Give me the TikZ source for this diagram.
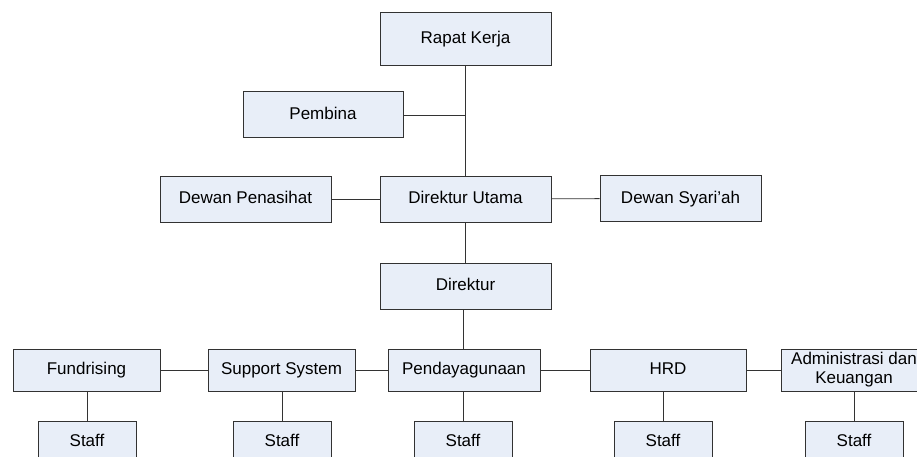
\documentclass[tikz,border=0pt]{standalone}
\usepackage{fontspec}
\setmainfont{Liberation Sans}
\definecolor{boxfill}{RGB}{232,238,248}
\definecolor{boxline}{RGB}{50,50,50}
\begin{document}
\begin{tikzpicture}[x=1pt,y=-1pt,
    kotak/.style={draw=boxline, line width=1pt, fill=boxfill, inner sep=1pt,
      minimum height=46pt, font=\fontsize{17}{19}\selectfont, align=center},
    jabatan/.style={kotak, text height=12.5pt, text depth=3.5pt},
    bidang/.style={jabatan, minimum height=42pt},
    staf/.style={jabatan, minimum width=98pt, minimum height=42pt},
    garis/.style={draw=black!80, line width=0.9pt}]

  \clip (0,0) rectangle (917,457);

   %pimpinan
   \node[jabatan, minimum width=171pt, minimum height=53pt] (rapat) at (465.5,39.5) {Rapat Kerja};
   \node[jabatan, minimum width=160pt] (pembina) at (323,115) {Pembina};
   \node[jabatan, minimum width=171pt] (penasihat) at (245.5,199) {Dewan Penasihat};
   \node[jabatan, minimum width=171pt] (utama) at (465.5,199) {Direktur Utama};
   \node[jabatan, minimum width=161pt] (syariah) at (680.5,198.5) {Dewan Syari’ah};
   \node[jabatan, minimum width=171pt] (direktur) at (465.5,286) {Direktur};

   %bidang
   \node[bidang, minimum width=147pt] (fund) at (86.5,370) {Fundrising};
   \node[bidang, minimum width=147pt] (support) at (281.5,370) {Support System};
   \node[bidang, minimum width=152pt] (pendaya) at (464,370) {Pendayagunaan};
   \node[bidang, minimum width=156pt] (hrd) at (668,370) {HRD};
   \node[kotak, minimum width=146pt, minimum height=42pt] (admin) at (854,370) {Administrasi dan\\Keuangan};

   %staff
   \node[staf] (sfund) at (87,442) {Staff};
   \node[staf] (ssupport) at (282,442) {Staff};
   \node[staf] (spendaya) at (463,442) {Staff};
   \node[staf] (shrd) at (663,442) {Staff};
   \node[staf] (sadmin) at (854,442) {Staff};

   %garis
   \draw[garis] (rapat.south) -- (utama.north);
   \draw[garis] (pembina.east) -- (pembina.east -| rapat.south);
   \draw[garis] (penasihat) -- (utama);
   \draw[garis] (utama) -- (syariah);
   \draw[garis] (utama.south) -- (direktur.north);
   \draw[garis] (direktur.south -| spendaya.north) -- (pendaya.north -| spendaya.north);
   \draw[garis] (fund) -- (support);
   \draw[garis] (support) -- (pendaya);
   \draw[garis] (pendaya) -- (hrd);
   \draw[garis] (hrd) -- (admin);
   \draw[garis] (fund.south -| sfund.north) -- (sfund.north);
   \draw[garis] (support.south -| ssupport.north) -- (ssupport.north);
   \draw[garis] (pendaya.south -| spendaya.north) -- (spendaya.north);
   \draw[garis] (hrd.south -| shrd.north) -- (shrd.north);
   \draw[garis] (admin.south) -- (sadmin.north);
  \end{tikzpicture}
\end{document}
